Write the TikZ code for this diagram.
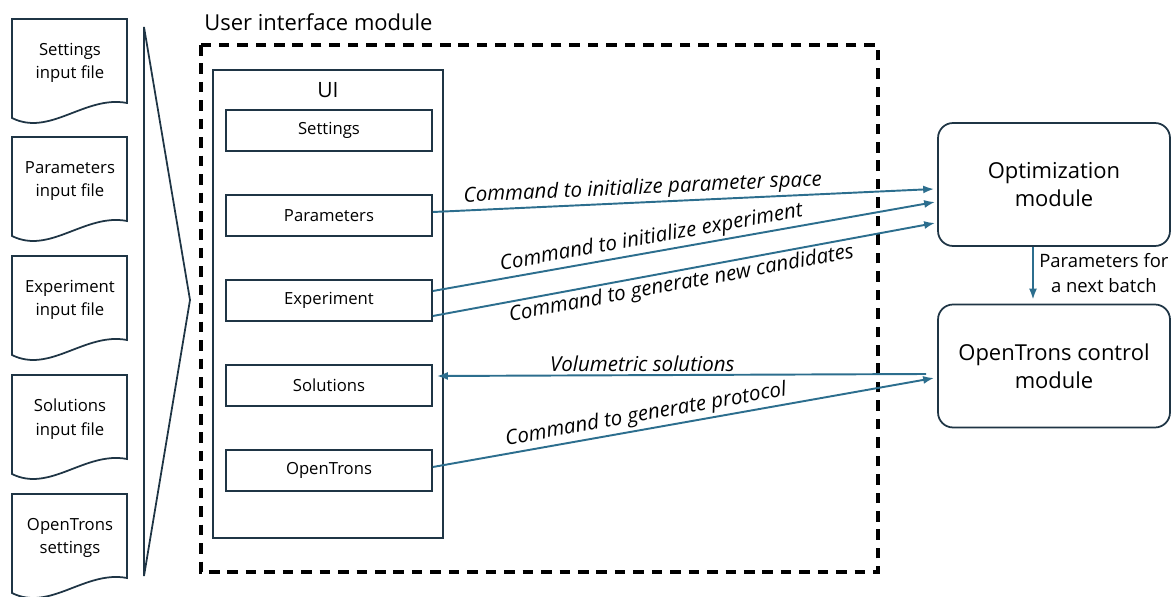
\documentclass[tikz,border=0pt]{standalone}
\usepackage{fontspec}
\setmainfont{Open Sans}
\usetikzlibrary{positioning,arrows.meta}
\definecolor{boxline}{HTML}{1F3545}
\definecolor{arrowblue}{HTML}{2C6E8E}
\tikzset{
	docline/.style={draw=boxline, line width=1pt},
	subbox/.style={draw=boxline, line width=1pt, minimum width=4.12cm, minimum height=0.82cm, font=\fontsize{9.5}{11}\selectfont},
	modbox/.style={draw=boxline, line width=1pt, rounded corners=0.3cm, minimum width=4.64cm, minimum height=2.46cm, align=center, font=\fontsize{12.5}{16}\selectfont},
	cmd/.style={draw=arrowblue, line width=1.1pt, -{Latex[length=2.2mm,width=1.6mm]}},
	cmdlabel/.style={font=\itshape\fontsize{11.7}{13}\selectfont, sloped, inner sep=1.5pt},
}
\begin{document}
\begin{tikzpicture}[x=0.02cm,y=-0.02cm]
	\useasboundingbox (0,0) rectangle (1176,597);
	% input files
	\foreach \t/\txt [count=\i] in {19/{Settings\\input file}, 137/{Parameters\\input file}, 256/{Experiment\\input file}, 375/{Solutions\\input file}, 494/{OpenTrons\\settings}} {
		\draw[docline] (12,\t) -- (127,\t) -- (127,\t+84) .. controls (85,\t+76) and (50,\t+118) .. (12,\t+99) -- cycle;
		\node[align=center, font=\fontsize{9.5}{13.5}\selectfont] (doc\i) at (70,\t+44) {\txt};
	}
	\draw[docline] (144,27) -- (190,300) -- (144,576) -- cycle;
	% user interface module
	\draw[line width=2pt, dash pattern=on 6pt off 4.5pt] (201,45) rectangle (878,572);
	\node[anchor=west, inner sep=0pt, font=\fontsize{12.5}{14}\selectfont] (uimod) at (204,22) {User interface module};
	\node[draw=boxline, line width=1pt, minimum width=4.6cm, minimum height=9.36cm] (ui) at (328,304) {};
	\node[font=\fontsize{12}{14}\selectfont] (uititle) at (328,90) {UI};
	\foreach \n/\y/\txt in {set/130.5/Settings, par/215.5/Parameters, exp/300.5/Experiment, sol/385.5/Solutions, otb/470.5/OpenTrons}
		\node[subbox] (\n) at (329,\y) {\txt};
	% other modules
	\node[modbox] (opt) at (1054,184.5) {Optimization\\module};
	\node[modbox] (ot) at (1054,366) {OpenTrons control\\module};
	% commands
	\draw[cmd] ([yshift=0.07cm]par.east) -- node[cmdlabel, above, pos=0.42] {Command to initialize parameter space} ([xshift=-0.06cm,yshift=-0.09cm]opt.west);
	\draw[cmd] ([yshift=0.19cm]exp.east) -- node[cmdlabel, above, pos=0.44] {Command to initialize experiment} ([xshift=-0.04cm,yshift=-0.35cm]opt.west);
	\draw[cmd] ([yshift=-0.31cm]exp.east) -- node[cmdlabel, below, pos=0.49] {Command to generate new candidates} ([xshift=-0.04cm,yshift=-0.77cm]opt.west);
	\draw[cmd] ([xshift=-0.22cm,yshift=-0.16cm]ot.west) -- node[cmdlabel, above, pos=0.58] {Volumetric solutions} ([xshift=0.08cm,yshift=0.19cm]sol.east);
	\draw[cmd] ([yshift=0.07cm]otb.east) -- node[cmdlabel, above, pos=0.43] {Command to generate protocol} ([xshift=-0.06cm,yshift=-0.24cm]ot.west);
	\draw[cmd] ([xshift=-0.42cm]opt.south) -- node[right, align=center, inner sep=3pt, font=\fontsize{10.5}{14}\selectfont] {Parameters for\\a next batch} ([xshift=-0.42cm,yshift=0.08cm]ot.north);
\end{tikzpicture}
\end{document}
